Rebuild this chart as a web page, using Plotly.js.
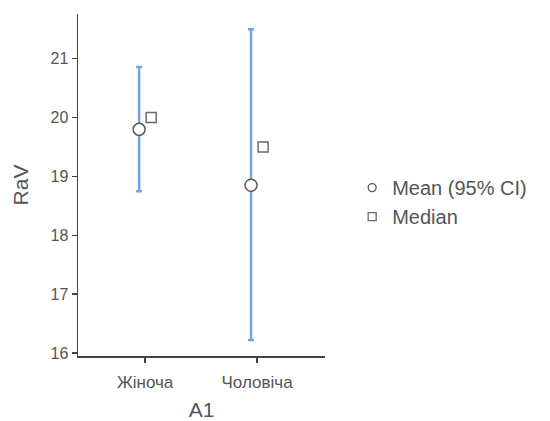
<!DOCTYPE html>
<html><head><meta charset="utf-8">
<script src="https://cdn.plot.ly/plotly-3.0.1.min.js"></script>
<style>body{margin:0;background:#fff}#c{width:550px;height:421px}</style>
</head><body><div id="c"></div>
<script>
const categories = ["Жіноча", "Чоловіча"];
const meanValues = [19.80, 18.85];
const ciLower = [18.75, 16.22];
const ciUpper = [20.86, 21.50];
const medianValues = [20.0, 19.5];
const legendLabels = ["Mean (95% CI)", "Median"];

const idx = categories.map((c, i) => i);
const off = 0.054;
const font = "Liberation Sans, Arial, sans-serif";
const txt = "#555555";

const traces = [
  {
    type: "scatter", mode: "markers", name: legendLabels[0], showlegend: false,
    x: idx.map(i => i - off), y: meanValues,
    error_y: {type: "data", symmetric: false,
      array: meanValues.map((m, i) => ciUpper[i] - m),
      arrayminus: meanValues.map((m, i) => m - ciLower[i]),
      color: "#74a2ec", thickness: 2.5, width: 3},
    marker: {symbol: "circle", size: 12, color: "#ffffff", line: {color: "#595959", width: 1.5}}
  },
  {
    type: "scatter", mode: "markers", name: legendLabels[1], showlegend: false,
    x: idx.map(i => i + off), y: medianValues,
    marker: {symbol: "square", size: 10, color: "#ffffff", line: {color: "#6a6a6a", width: 1.5}}
  },
  {
    type: "scatter", mode: "markers", name: legendLabels[0], x: [null], y: [null],
    marker: {symbol: "circle", size: 8, color: "#ffffff", line: {color: "#595959", width: 1.3}}
  },
  {
    type: "scatter", mode: "markers", name: legendLabels[1], x: [null], y: [null],
    marker: {symbol: "square", size: 8, color: "#ffffff", line: {color: "#6a6a6a", width: 1.3}}
  }
];

const layout = {
  width: 550, height: 421,
  margin: {l: 78, r: 225, t: 14, b: 65},
  paper_bgcolor: "#fff", plot_bgcolor: "#fff",
  font: {family: font, color: txt, size: 14},
  showlegend: true,
  legend: {x: 1.11, y: 0.45, xanchor: "left", yanchor: "middle",
    font: {size: 20, color: txt}, itemsizing: "trace", tracegroupgap: 0},
  xaxis: {
    range: [-0.6, 1.607], tickvals: idx, ticktext: categories,
    showgrid: false, zeroline: false, showline: true, linecolor: "#444444", linewidth: 1.5,
    ticks: "outside", ticklen: 5, tickcolor: "#444444", tickwidth: 1.5,
    ticklabelstandoff: 5,
    tickfont: {size: 17, color: txt},
    title: {text: "A1", font: {size: 21, color: txt}, standoff: 14}
  },
  yaxis: {
    range: [15.95, 21.76], tickvals: [16, 17, 18, 19, 20, 21],
    showgrid: false, zeroline: false, showline: true, linecolor: "#444444", linewidth: 1.5,
    ticks: "outside", ticklen: 5, tickcolor: "#444444", tickwidth: 1.5,
    tickfont: {size: 16, color: txt},
    title: {text: "RaV", font: {size: 21, color: txt}, standoff: 16}
  }
};
Plotly.newPlot("c", traces, layout, {displayModeBar: false, staticPlot: true});
</script></body></html>
